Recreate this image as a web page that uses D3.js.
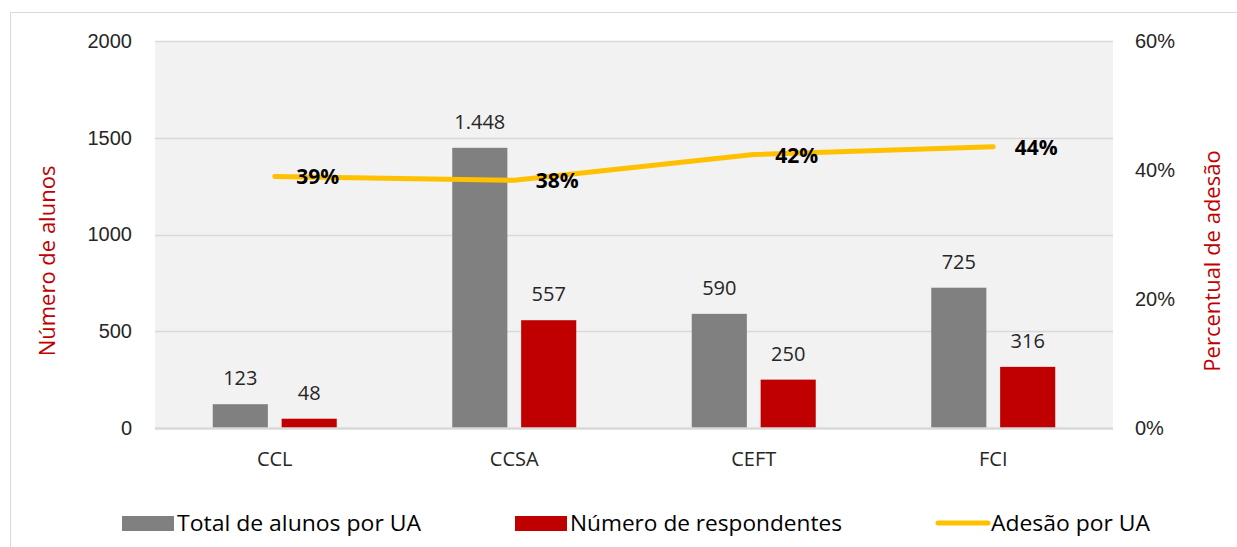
<!DOCTYPE html>
<html>
<head>
<meta charset="utf-8">
<script src="https://cdn.jsdelivr.net/npm/d3@7"></script>
<style>
  body { margin: 0; background: #fff; }
  svg { display: block; font-family: "Open Sans", "Noto Sans", sans-serif; }
</style>
</head>
<body>
<div id="graph"></div>
<script>
var categories = ["CCL", "CCSA", "CEFT", "FCI"];
var totalAlunos = [123, 1448, 590, 725];
var respondentes = [48, 557, 250, 316];
var adesao = [0.39, 0.384, 0.424, 0.436];
var leftTicks = [0, 500, 1000, 1500, 2000];
var rightTicks = [0, 0.2, 0.4, 0.6];
var seriesNames = ["Total de alunos por UA", "Número de respondentes", "Adesão por UA"];

var W = 1237, H = 547;
var margin = {top: 41, right: 124, bottom: 119, left: 155};

var svg = d3.select("#graph").append("svg")
    .attr("width", W)
    .attr("height", H);

// outer frame (only top and left edges are inside the picture)
svg.append("path")
    .attr("d", "M10.5," + H + "V12.5H" + W)
    .attr("fill", "none")
    .attr("stroke", "#d9d9d9");

var x = d3.scaleBand().domain(categories).range([margin.left, W - margin.right]);
var bw = x.bandwidth();
var x1 = d3.scaleBand().domain(["total", "resp"])
    .range([bw / 2 - 62, bw / 2 + 62]).paddingInner(0.2);
var y = d3.scaleLinear().domain([0, 2000]).range([H - margin.bottom, margin.top]);
var y2 = d3.scaleLinear().domain([0, 0.6]).range([H - margin.bottom, margin.top]);

var thousands = d3.formatLocale({decimal: ",", thousands: ".", grouping: [3], currency: ["R$", ""]}).format(",d");

// plot background
svg.append("rect")
    .attr("x", margin.left)
    .attr("y", margin.top)
    .attr("width", W - margin.right - margin.left)
    .attr("height", H - margin.bottom - margin.top)
    .attr("fill", "#f2f2f2");

// gridlines
svg.append("g").selectAll("line")
    .data(leftTicks.slice(1))
  .enter().append("line")
    .attr("x1", margin.left)
    .attr("x2", W - margin.right)
    .attr("y1", function(d) { return Math.round(y(d)) + 0.5; })
    .attr("y2", function(d) { return Math.round(y(d)) + 0.5; })
    .attr("stroke", "#d9d9d9")
    .attr("stroke-width", 1.5);

// left axis
var gl = svg.append("g")
    .attr("transform", "translate(132,0)")
    .call(d3.axisLeft(y).tickValues(leftTicks).tickSize(0).tickPadding(0).tickFormat(d3.format("d")));
gl.select(".domain").remove();
gl.selectAll("text").attr("font-size", 20).attr("fill", "#262626").attr("font-family", null);

// right axis
var gr = svg.append("g")
    .attr("transform", "translate(1135,0)")
    .call(d3.axisRight(y2).tickValues(rightTicks).tickSize(0).tickPadding(0).tickFormat(d3.format(".0%")));
gr.select(".domain").remove();
gr.selectAll("text").attr("font-size", 20).attr("fill", "#262626").attr("font-family", null);

// bars
var groups = svg.append("g").selectAll("g")
    .data(categories)
  .enter().append("g")
    .attr("transform", function(d) { return "translate(" + x(d) + ",0)"; });

groups.append("rect")
    .attr("x", x1("total"))
    .attr("width", x1.bandwidth())
    .attr("y", function(d, i) { return y(totalAlunos[i]); })
    .attr("height", function(d, i) { return y(0) - y(totalAlunos[i]); })
    .attr("fill", "#808080");

groups.append("rect")
    .attr("x", x1("resp"))
    .attr("width", x1.bandwidth())
    .attr("y", function(d, i) { return y(respondentes[i]); })
    .attr("height", function(d, i) { return y(0) - y(respondentes[i]); })
    .attr("fill", "#c00000");

groups.append("text")
    .attr("x", x1("total") + x1.bandwidth() / 2)
    .attr("y", function(d, i) { return y(totalAlunos[i]) - 19; })
    .attr("text-anchor", "middle")
    .attr("font-size", 20)
    .attr("fill", "#262626")
    .text(function(d, i) { return thousands(totalAlunos[i]); });

groups.append("text")
    .attr("x", x1("resp") + x1.bandwidth() / 2)
    .attr("y", function(d, i) { return y(respondentes[i]) - 19; })
    .attr("text-anchor", "middle")
    .attr("font-size", 20)
    .attr("fill", "#262626")
    .text(function(d, i) { return thousands(respondentes[i]); });

// x axis line
svg.append("line")
    .attr("x1", margin.left)
    .attr("x2", W - margin.right)
    .attr("y1", y(0) + 0.5)
    .attr("y2", y(0) + 0.5)
    .attr("stroke", "#d9d9d9")
    .attr("stroke-width", 2.5);

// category labels
svg.append("g").selectAll("text")
    .data(categories)
  .enter().append("text")
    .attr("x", function(d) { return x(d) + bw / 2; })
    .attr("y", 466)
    .attr("text-anchor", "middle")
    .attr("font-size", 20)
    .attr("fill", "#262626")
    .text(function(d) { return d; });

// adesao line
var line = d3.line()
    .x(function(d, i) { return x(categories[i]) + bw / 2; })
    .y(function(d) { return y2(d); });

svg.append("path")
    .datum(adesao)
    .attr("d", line)
    .attr("fill", "none")
    .attr("stroke", "#ffc000")
    .attr("stroke-width", 5)
    .attr("stroke-linecap", "round")
    .attr("stroke-linejoin", "round");

svg.append("g").selectAll("text")
    .data(adesao)
  .enter().append("text")
    .attr("x", function(d, i) { return x(categories[i]) + bw / 2 + 43; })
    .attr("y", function(d) { return y2(d) + 8; })
    .attr("text-anchor", "middle")
    .attr("font-size", 21)
    .attr("font-weight", "bold")
    .attr("fill", "#000")
    .text(function(d) { return d3.format(".0%")(d); });

// axis titles
svg.append("text")
    .attr("transform", "translate(55,261) rotate(-90)")
    .attr("text-anchor", "middle")
    .attr("font-size", 22)
    .attr("fill", "#c00000")
    .text("Número de alunos");

svg.append("text")
    .attr("transform", "translate(1220,261) rotate(-90)")
    .attr("text-anchor", "middle")
    .attr("font-size", 22)
    .attr("fill", "#c00000")
    .text("Percentual de adesão");

// legend
var legend = svg.append("g");
var lgX = [122, 515, 936];
var lgLen = [244, 272, 159];

legend.append("rect").attr("x", lgX[0]).attr("y", 516).attr("width", 52).attr("height", 15).attr("fill", "#808080");
legend.append("rect").attr("x", lgX[1]).attr("y", 516).attr("width", 52).attr("height", 15).attr("fill", "#c00000");
legend.append("line").attr("x1", lgX[2] + 2).attr("x2", lgX[2] + 52).attr("y1", 523).attr("y2", 523)
    .attr("stroke", "#ffc000").attr("stroke-width", 5).attr("stroke-linecap", "round");

legend.selectAll("text")
    .data(seriesNames)
  .enter().append("text")
    .attr("x", function(d, i) { return lgX[i] + 55; })
    .attr("y", 531)
    .attr("font-size", 22)
    .attr("fill", "#000")
    .attr("textLength", function(d, i) { return lgLen[i]; })
    .attr("lengthAdjust", "spacingAndGlyphs")
    .text(function(d) { return d; });
</script>
</body>
</html>
